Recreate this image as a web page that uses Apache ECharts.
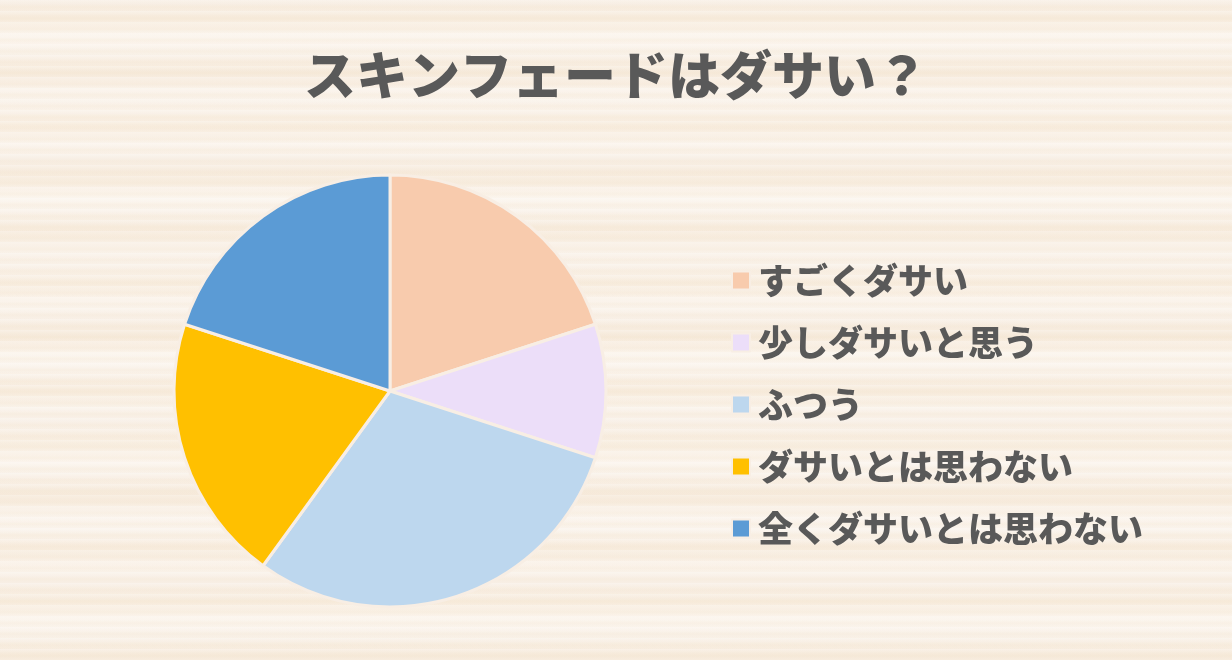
<!DOCTYPE html>
<html lang="ja">
<head>
    <meta charset="utf-8" />
    <script src="https://cdn.jsdelivr.net/npm/echarts@6/dist/echarts.min.js"></script>
    <title>スキンフェードはダサい？</title>
    <style>
        html, body { margin: 0; padding: 0; }
        body {
            width: 1232px; height: 660px; overflow: hidden;
            background-color: #f8efe5;
            background-image:
                repeating-linear-gradient(180deg, rgba(255,255,255,0.25) 0px, rgba(255,255,255,0) 4px, rgba(240,222,196,0.18) 7px, rgba(255,255,255,0) 11px),
                repeating-linear-gradient(180deg, rgba(245,228,205,0) 0px, rgba(243,224,198,0.35) 19px, rgba(255,250,244,0.3) 37px, rgba(245,228,205,0) 53px),
                repeating-linear-gradient(180deg, rgba(255,252,248,0) 0px, rgba(255,252,248,0.35) 31px, rgba(255,252,248,0) 83px);
        }
        #chart { width: 1232px; height: 660px; }
    </style>
</head>
<body>
<div id="chart"></div>
<script type="text/javascript">
    var categories = ['すごくダサい', '少しダサいと思う', 'ふつう', 'ダサいとは思わない', '全くダサいとは思わない'];
    var values = [20, 10, 30, 20, 20];
    var colors = ['#f8cbad', '#ecdef9', '#bdd7ee', '#ffc000', '#5b9bd5'];

    var chart = echarts.init(document.getElementById('chart'));
    var pieData = [];
    for (var i = 0; i < categories.length; i++) {
        pieData.push({ name: categories[i], value: values[i], itemStyle: { color: colors[i] } });
    }
    chart.setOption({
        backgroundColor: 'transparent',
        animation: false,
        title: {
            text: 'スキンフェードはダサい？',
            left: 'center',
            top: 44,
            textStyle: {
                fontFamily: 'Noto Sans CJK JP',
                fontSize: 52,
                fontWeight: 900,
                color: '#595959'
            }
        },
        legend: {
            orient: 'vertical',
            left: 731,
            top: 263,
            padding: 0,
            itemWidth: 18,
            itemHeight: 18,
            itemGap: 27,
            icon: 'rect',
            textStyle: {
                fontFamily: 'Noto Sans CJK JP',
                fontSize: 35,
                fontWeight: 900,
                lineHeight: 35,
                color: '#595959',
                padding: [0, 0, 0, 3]
            },
            data: categories
        },
        series: [{
            type: 'pie',
            center: [390, 391],
            radius: 216,
            startAngle: 90,
            label: { show: false },
            labelLine: { show: false },
            itemStyle: { borderColor: '#f8eee4', borderWidth: 3 },
            emphasis: { disabled: true },
            data: pieData
        }]
    });
</script>
</body>
</html>
